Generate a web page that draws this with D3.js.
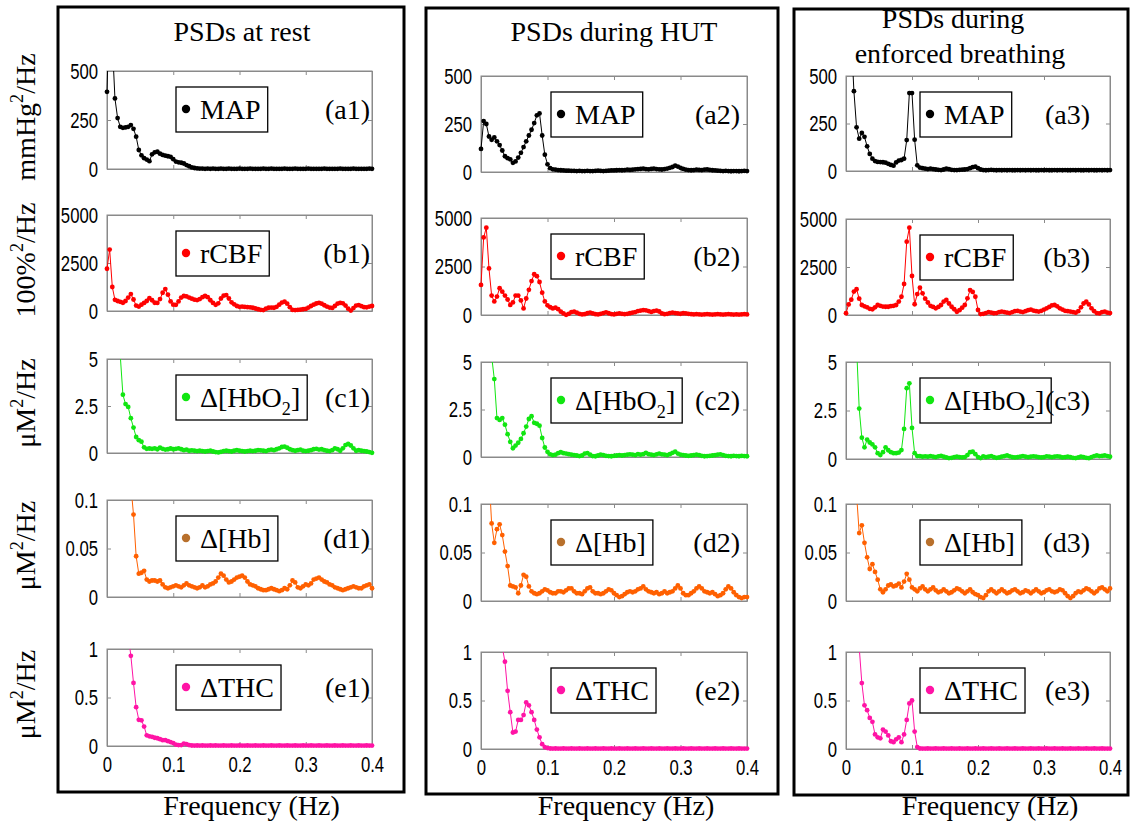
<!DOCTYPE html>
<html><head><meta charset="utf-8">
<script src="https://cdn.jsdelivr.net/npm/d3@7"></script>
<style>
body{margin:0;background:#fff}
svg text{font-family:"Liberation Serif","Times New Roman",serif;fill:#000}
.tick text{font-family:"Liberation Sans",Arial,sans-serif;font-size:22px;fill:#000}
</style></head><body><svg id="c" width="1141" height="823"></svg>
<script>
const freq = [0,0.004,0.008,0.012,0.016,0.02,0.024,0.028,0.032,0.036,0.04,0.044,0.048,0.052,0.056,0.06,0.064,0.068,0.072,0.076,0.08,0.084,0.088,0.092,0.096,0.1,0.104,0.108,0.112,0.116,0.12,0.124,0.128,0.132,0.136,0.14,0.144,0.148,0.152,0.156,0.16,0.164,0.168,0.172,0.176,0.18,0.184,0.188,0.192,0.196,0.2,0.204,0.208,0.212,0.216,0.22,0.224,0.228,0.232,0.236,0.24,0.244,0.248,0.252,0.256,0.26,0.264,0.268,0.272,0.276,0.28,0.284,0.288,0.292,0.296,0.3,0.304,0.308,0.312,0.316,0.32,0.324,0.328,0.332,0.336,0.34,0.344,0.348,0.352,0.356,0.36,0.364,0.368,0.372,0.376,0.38,0.384,0.388,0.392,0.396,0.4];
const xTickValues = [0,0.1,0.2,0.3,0.4];
const xTickLabels = ["0","0.1","0.2","0.3","0.4"];
const columnTitles = [["PSDs at rest"],["PSDs during HUT"],["PSDs during","enforced breathing"]];
const unitLabels = [[["mmHg",""],["2","sup"],["/Hz",""]],[["100%",""],["2","sup"],["/Hz",""]],[["μM",""],["2","sup"],["/Hz",""]],[["μM",""],["2","sup"],["/Hz",""]],[["μM",""],["2","sup"],["/Hz",""]]];
const seriesNames = [[["MAP",""]],[["rCBF",""]],[["Δ[HbO",""],["2","sub"],["]",""]],[["Δ[Hb]",""]],[["ΔTHC",""]]];
const yMax = [500,5000,5,0.1,1];
const yTickValues = [[0,250,500],[0,2500,5000],[0,2.5,5],[0,0.05,0.1],[0,0.5,1]];
const yTickLabels = [["0","250","500"],["0","2500","5000"],["0","2.5","5"],["0","0.05","0.1"],["0","0.5","1"]];
const panelTags = [["(a1)","(b1)","(c1)","(d1)","(e1)"],["(a2)","(b2)","(c2)","(d2)","(e2)"],["(a3)","(b3)","(c3)","(d3)","(e3)"]];
const xAxisTitle = "Frequency (Hz)";

// ---- Column 1: at rest ----
const mapRest = [394,900,650,360,260,215,210,212,215,224,205,165,97,70,55,48,40,75,85,88,78,72,68,65,62,50,38,34,32,28,20,14,8,5,3,2,2,1,2,1,2,1,1,2,1,1,2,1,1,1,2,1,1,1,2,1,1,1,1,2,1,1,2,1,1,1,1,2,1,1,1,2,1,1,1,1,2,1,1,1,1,1,2,1,1,1,1,1,2,1,1,1,1,2,1,1,1,1,1,2,1];
const rcbfRest = [2200,3200,1250,580,520,480,430,520,700,880,600,280,230,330,420,520,670,560,430,420,620,950,1140,850,500,330,320,500,700,780,760,700,640,590,570,620,720,780,720,560,420,320,400,650,800,830,650,450,350,260,220,230,210,200,190,170,130,90,60,50,120,170,180,170,220,330,440,485,380,200,55,50,60,70,90,110,180,260,330,390,420,380,300,230,180,160,260,380,420,400,280,120,20,150,280,310,250,200,190,230,260];
const hbo2Rest = [30,25,18,12,8,5.2,3.1,2.6,2.45,1.85,1.35,0.85,0.68,0.6,0.3,0.22,0.24,0.22,0.25,0.2,0.28,0.22,0.18,0.2,0.24,0.2,0.22,0.25,0.2,0.15,0.18,0.12,0.14,0.12,0.1,0.12,0.1,0.08,0.1,0.12,0.08,0.05,0.03,0.06,0.1,0.12,0.1,0.08,0.12,0.15,0.12,0.1,0.08,0.1,0.12,0.1,0.12,0.15,0.14,0.12,0.1,0.15,0.18,0.15,0.2,0.25,0.32,0.34,0.28,0.2,0.15,0.12,0.15,0.18,0.12,0.1,0.12,0.15,0.2,0.22,0.18,0.2,0.15,0.12,0.1,0.15,0.25,0.2,0.12,0.25,0.42,0.48,0.4,0.25,0.12,0.15,0.12,0.1,0.08,0.05,0.01];
const hbRest = [1.5,1.2,0.9,0.7,0.5,0.4,0.3,0.2,0.14,0.115,0.085,0.042,0.024,0.025,0.027,0.018,0.016,0.017,0.017,0.016,0.017,0.013,0.01,0.009,0.01,0.011,0.012,0.011,0.01,0.012,0.014,0.012,0.011,0.01,0.009,0.01,0.012,0.01,0.011,0.013,0.014,0.016,0.02,0.024,0.022,0.018,0.015,0.016,0.018,0.02,0.021,0.022,0.02,0.016,0.013,0.012,0.011,0.009,0.008,0.007,0.007,0.008,0.009,0.008,0.007,0.006,0.007,0.009,0.008,0.012,0.017,0.015,0.01,0.009,0.011,0.013,0.012,0.014,0.018,0.019,0.02,0.018,0.016,0.015,0.013,0.012,0.01,0.009,0.008,0.007,0.008,0.009,0.01,0.011,0.01,0.009,0.009,0.011,0.012,0.013,0.009];
const thcRest = [6,5,4,3,2.5,2,1.6,1.3,1.15,0.93,0.65,0.4,0.27,0.265,0.2,0.11,0.1,0.095,0.085,0.08,0.07,0.06,0.06,0.05,0.04,0.03,0.015,0.01,0.01,0.025,0.02,0.01,0.005,0.004,0.005,0.004,0.005,0.004,0.004,0.005,0.004,0.005,0.004,0.004,0.005,0.004,0.004,0.005,0.004,0.004,0.005,0.004,0.004,0.005,0.004,0.004,0.005,0.004,0.004,0.005,0.004,0.004,0.005,0.004,0.004,0.005,0.004,0.004,0.005,0.004,0.004,0.005,0.004,0.004,0.005,0.004,0.004,0.005,0.004,0.004,0.005,0.004,0.004,0.005,0.004,0.004,0.005,0.004,0.004,0.005,0.004,0.004,0.005,0.004,0.004,0.005,0.004,0.004,0.005,0.004,0.004];

// ---- Column 2: during HUT ----
const mapHut = [120,265,250,185,168,180,160,140,112,82,72,66,48,55,75,100,130,160,190,220,255,295,305,190,90,40,20,14,12,10,9,8,7,7,6,6,5,6,5,5,6,5,5,6,7,6,5,6,7,8,8,9,10,9,10,12,11,12,14,15,16,18,15,14,16,18,15,14,13,15,18,22,26,33,28,22,16,12,10,9,10,12,11,10,12,13,11,9,8,7,6,5,6,5,4,5,5,4,5,6,5];
const rcbfHut = [1550,4000,4500,2400,1000,700,950,1380,1200,1000,800,520,650,1000,1000,750,340,850,1300,1750,2100,2000,1700,1150,700,500,400,340,380,300,170,80,10,60,150,170,120,60,30,40,90,120,80,40,30,60,100,140,90,50,30,60,80,60,40,60,90,120,150,200,230,250,240,200,160,200,230,180,80,40,60,100,120,100,80,60,90,80,60,40,30,40,30,20,30,40,30,20,30,40,30,20,30,40,30,20,30,20,30,40,30];
const hbo2Hut = [40,30,20,12,5.3,4.1,2.05,1.95,2.05,1.7,1.2,0.8,0.46,0.6,0.75,0.95,1.25,1.6,2.0,2.15,1.8,1.75,1.65,1.0,0.5,0.27,0.14,0.1,0.12,0.2,0.25,0.2,0.18,0.15,0.12,0.1,0.08,0.05,0.08,0.18,0.2,0.12,0.05,0.04,0.08,0.12,0.1,0.06,0.05,0.04,0.06,0.08,0.1,0.08,0.1,0.12,0.14,0.12,0.1,0.15,0.12,0.15,0.22,0.15,0.12,0.1,0.14,0.18,0.14,0.12,0.1,0.15,0.22,0.28,0.18,0.12,0.1,0.08,0.06,0.08,0.1,0.12,0.1,0.06,0.04,0.05,0.06,0.08,0.1,0.12,0.14,0.1,0.06,0.05,0.04,0.06,0.05,0.04,0.06,0.05,0.04];
const hbHut = [0.4,0.3,0.2,0.13,0.08,0.06,0.074,0.079,0.068,0.051,0.036,0.016,0.015,0.014,0.008,0.016,0.027,0.025,0.015,0.01,0.008,0.007,0.008,0.01,0.012,0.011,0.009,0.008,0.008,0.01,0.01,0.009,0.011,0.013,0.013,0.01,0.008,0.008,0.007,0.01,0.013,0.014,0.01,0.008,0.008,0.007,0.008,0.01,0.012,0.011,0.008,0.006,0.004,0.005,0.007,0.009,0.01,0.009,0.01,0.012,0.013,0.015,0.012,0.01,0.009,0.008,0.009,0.007,0.008,0.01,0.008,0.009,0.01,0.013,0.016,0.013,0.008,0.006,0.006,0.008,0.01,0.013,0.015,0.013,0.01,0.009,0.008,0.009,0.007,0.005,0.006,0.008,0.012,0.015,0.013,0.009,0.006,0.004,0.003,0.004,0.004];
const thcHut = [5,4,3.5,3,2.5,2,1.6,1.3,1.05,0.9,0.6,0.38,0.17,0.18,0.3,0.3,0.35,0.48,0.45,0.38,0.3,0.2,0.12,0.05,0.02,0.01,0.005,0.004,0.005,0.004,0.004,0.005,0.004,0.004,0.005,0.004,0.004,0.005,0.004,0.004,0.005,0.004,0.004,0.005,0.004,0.004,0.005,0.004,0.004,0.005,0.004,0.004,0.005,0.004,0.004,0.005,0.004,0.004,0.005,0.004,0.004,0.005,0.004,0.004,0.005,0.004,0.004,0.005,0.004,0.004,0.005,0.004,0.004,0.005,0.004,0.004,0.005,0.004,0.004,0.005,0.004,0.004,0.005,0.004,0.004,0.005,0.004,0.004,0.005,0.004,0.004,0.005,0.004,0.004,0.005,0.004,0.004,0.005,0.004,0.004,0.004];

// ---- Column 3: during enforced breathing ----
const mapBreath = [2000,1500,700,420,230,170,200,180,130,90,65,52,48,47,46,44,38,32,28,45,55,58,65,163,410,410,165,30,18,15,12,10,12,10,8,6,5,8,12,10,6,5,5,6,7,8,10,15,20,23,15,8,5,4,5,6,5,4,5,4,5,4,5,4,4,5,4,5,4,5,4,5,4,4,5,4,5,4,4,5,4,5,4,5,4,4,5,4,5,4,4,5,4,5,4,4,5,4,5,4,5];
const rcbfBreath = [90,550,800,1220,1340,850,520,450,400,320,300,400,520,480,440,430,430,460,480,520,700,950,1615,3820,4550,2030,560,1090,1420,1130,850,650,480,420,350,420,520,700,780,600,430,300,170,250,380,520,870,1300,1200,950,260,50,60,100,150,120,90,100,150,180,150,120,100,150,200,220,180,150,200,250,280,230,200,180,220,280,350,420,500,520,450,350,280,220,200,180,150,120,200,400,600,690,550,350,200,100,80,150,180,120,100];
const hbo2Breath = [50,40,25,12,5.8,2.6,1.1,0.6,1.0,0.85,0.75,0.6,0.3,0.2,0.35,0.6,0.45,0.35,0.3,0.3,0.33,0.46,1.55,3.65,3.9,1.6,0.3,0.15,0.15,0.12,0.14,0.12,0.15,0.12,0.1,0.14,0.16,0.12,0.08,0.05,0.06,0.1,0.12,0.1,0.08,0.1,0.2,0.35,0.38,0.25,0.1,0.05,0.14,0.1,0.12,0.15,0.1,0.06,0.08,0.12,0.15,0.18,0.14,0.1,0.08,0.1,0.12,0.15,0.12,0.1,0.12,0.14,0.12,0.1,0.08,0.1,0.14,0.12,0.1,0.12,0.14,0.12,0.08,0.1,0.12,0.1,0.06,0.05,0.08,0.12,0.1,0.06,0.04,0.1,0.15,0.18,0.15,0.16,0.18,0.15,0.12];
const hbBreath = [0.5,0.4,0.3,0.2,0.11,0.07,0.078,0.06,0.045,0.033,0.038,0.03,0.022,0.012,0.009,0.012,0.016,0.017,0.015,0.016,0.018,0.014,0.02,0.028,0.022,0.014,0.012,0.01,0.013,0.015,0.012,0.01,0.012,0.014,0.011,0.009,0.01,0.012,0.01,0.008,0.009,0.011,0.013,0.012,0.01,0.008,0.01,0.012,0.009,0.007,0.006,0.004,0.003,0.006,0.01,0.012,0.01,0.008,0.01,0.012,0.01,0.008,0.009,0.011,0.012,0.01,0.008,0.009,0.011,0.01,0.008,0.01,0.012,0.01,0.008,0.009,0.011,0.012,0.01,0.009,0.01,0.012,0.011,0.008,0.005,0.003,0.005,0.008,0.01,0.009,0.011,0.013,0.012,0.01,0.008,0.01,0.013,0.014,0.012,0.01,0.013];
const thcBreath = [8,6,4,2.5,1.5,1.05,0.68,0.45,0.4,0.32,0.28,0.15,0.12,0.11,0.2,0.18,0.14,0.08,0.07,0.1,0.12,0.07,0.15,0.3,0.47,0.5,0.18,0.02,0.005,0.004,0.004,0.005,0.004,0.004,0.005,0.004,0.004,0.005,0.004,0.004,0.005,0.004,0.004,0.005,0.004,0.004,0.005,0.004,0.004,0.005,0.004,0.004,0.005,0.004,0.004,0.005,0.004,0.004,0.005,0.004,0.004,0.005,0.004,0.004,0.005,0.004,0.004,0.005,0.004,0.004,0.005,0.004,0.004,0.005,0.004,0.004,0.005,0.004,0.004,0.005,0.004,0.004,0.005,0.004,0.004,0.005,0.004,0.004,0.005,0.004,0.004,0.005,0.004,0.004,0.005,0.004,0.004,0.005,0.004,0.004,0.004];

const columnSeries = [
  [mapRest, rcbfRest, hbo2Rest, hbRest, thcRest],
  [mapHut, rcbfHut, hbo2Hut, hbHut, thcHut],
  [mapBreath, rcbfBreath, hbo2Breath, hbBreath, thcBreath]
];
const lineColors = ["#000000","#ff0000","#11e611","#ff6000","#ff14a5"];
const legendDotColors = ["#000000","#ff0000","#11e611","#b8702c","#ff14a5"];

// ---------- layout ----------
const svg = d3.select("#c");
const frames = [[58,7,404,792],[426,8,778,794],[794,9,1128,795]];
const colX = [[107,372],[481,747],[846,1110]];
const rowY = [
  [[71,169],[215,311],[359,453],[500,597],[649,746]],
  [[76,172],[218,315],[362,457],[504,601],[652,749]],
  [[76,171],[219,315],[362,459],[504,601],[652,749]]
];
const legendOffX = [69,70,74];
const tagRight = [370,740,1090];
const serifSize = 28;
const narrow = 0.76;

function addParts(textSel, parts, fs){
  let shift = 0;
  parts.forEach(([s,k]) => {
    const target = k === "sup" ? -0.42*fs : (k === "sub" ? 0.28*fs : 0);
    const t = textSel.append("tspan").text(s).attr("dy", target - shift);
    if (k) t.attr("font-size", fs*0.65);
    shift = target;
  });
}

const defs = svg.append("defs");

frames.forEach((fr) => {
  svg.append("rect").attr("x", fr[0]).attr("y", fr[1])
    .attr("width", fr[2]-fr[0]).attr("height", fr[3]-fr[1])
    .attr("fill", "none").attr("stroke", "#000").attr("stroke-width", 3);
});

// titles
const titleCenters = [242, 614, 958];
columnTitles.forEach((lines, ci) => {
  if (lines.length === 1) {
    svg.append("text").attr("x", titleCenters[ci]).attr("y", 41)
      .attr("text-anchor","middle").attr("font-size", serifSize).text(lines[0]);
  } else {
    svg.append("text").attr("x", titleCenters[ci]-5).attr("y", 28)
      .attr("text-anchor","middle").attr("font-size", serifSize).text(lines[0]);
    svg.append("text").attr("x", titleCenters[ci]+2).attr("y", 63)
      .attr("text-anchor","middle").attr("font-size", serifSize).text(lines[1]);
  }
});

// unit labels (left)
rowY[0].forEach((ry, ri) => {
  const yc = (ry[0]+ry[1])/2 - 3;
  const t = svg.append("text").attr("transform", `translate(35,${yc}) rotate(-90)`)
    .attr("text-anchor","middle").attr("font-size", serifSize);
  addParts(t, unitLabels[ri], serifSize);
});

columnSeries.forEach((seriesList, ci) => {
  const [x0, x1] = colX[ci];
  const x = d3.scaleLinear().domain([0, 0.4]).range([x0, x1]);
  seriesList.forEach((vals, ri) => {
    const [y0, y1] = rowY[ci][ri];
    const y = d3.scaleLinear().domain([0, yMax[ri]]).range([y1, y0]);
    const g = svg.append("g");
    const cid = `clip${ci}${ri}`;
    defs.append("clipPath").attr("id", cid).append("rect")
      .attr("x", x0-6).attr("y", y0).attr("width", x1-x0+12).attr("height", y1-y0+6);

    g.append("rect").attr("x", x0).attr("y", y0).attr("width", x1-x0).attr("height", y1-y0)
      .attr("fill","none").attr("stroke","#8a8a8a").attr("stroke-width",1);

    const isBottom = ri === 4;
    const axB = d3.axisBottom(x).tickValues(xTickValues).tickSizeInner(-4).tickSizeOuter(0).tickPadding(10)
      .tickFormat((d,i) => isBottom ? xTickLabels[i] : "");
    const axT = d3.axisTop(x).tickValues(xTickValues).tickSizeInner(-4).tickSizeOuter(0).tickFormat("");
    const axL = d3.axisLeft(y).tickValues(yTickValues[ri]).tickSizeInner(-4).tickSizeOuter(0).tickPadding(9)
      .tickFormat((d,i) => yTickLabels[ri][i]);
    const axR = d3.axisRight(y).tickValues(yTickValues[ri]).tickSizeInner(-4).tickSizeOuter(0).tickFormat("");
    [[axB, `translate(0,${y1})`],[axT, `translate(0,${y0})`],[axL, `translate(${x0},0)`],[axR, `translate(${x1},0)`]]
      .forEach(([ax, tr]) => {
        const a = g.append("g").attr("transform", tr).call(ax);
        a.select(".domain").attr("stroke","#8a8a8a");
        a.selectAll(".tick line").attr("stroke","#8a8a8a");
        a.selectAll(".tick text").each(function(){
          const s = d3.select(this);
          const xx = +(s.attr("x") || 0);
          s.attr("x", xx / narrow).attr("transform", `scale(${narrow},1)`);
        });
      });

    const pts = freq.map((f, i) => [f, vals[i]]);
    const plot = g.append("g").attr("clip-path", `url(#${cid})`);
    plot.append("path").datum(pts)
      .attr("d", d3.line().x(d => x(d[0])).y(d => y(d[1])))
      .attr("fill","none").attr("stroke", lineColors[ri]).attr("stroke-width", 1);
    plot.selectAll("circle").data(pts).join("circle")
      .attr("cx", d => x(d[0])).attr("cy", d => y(d[1])).attr("r", 2.4)
      .attr("fill", lineColors[ri]);

    // legend
    const lx = x0 + legendOffX[ci], ly = y0 + 16;
    const lg = g.append("g");
    const box = lg.append("rect").attr("x", lx).attr("y", ly).attr("height", 45)
      .attr("fill","#fff").attr("stroke","#000").attr("stroke-width",1.3);
    lg.append("circle").attr("cx", lx+10).attr("cy", ly+22).attr("r", 4.2).attr("fill", legendDotColors[ri]);
    const lt = lg.append("text").attr("x", lx+24).attr("y", ly+32).attr("font-size", serifSize);
    addParts(lt, seriesNames[ri], serifSize);
    const tw = lt.node().getComputedTextLength();
    box.attr("width", 24 + tw + 7);

    g.append("text").attr("x", tagRight[ci]).attr("y", ly+32).attr("text-anchor","end")
      .attr("font-size", serifSize).text(panelTags[ci][ri]);

    if (isBottom) {
      svg.append("text").attr("x", (x0+x1)/2 + 12).attr("y", 815).attr("text-anchor","middle")
        .attr("font-size", serifSize).text(xAxisTitle);
    }
  });
});
</script></body></html>
